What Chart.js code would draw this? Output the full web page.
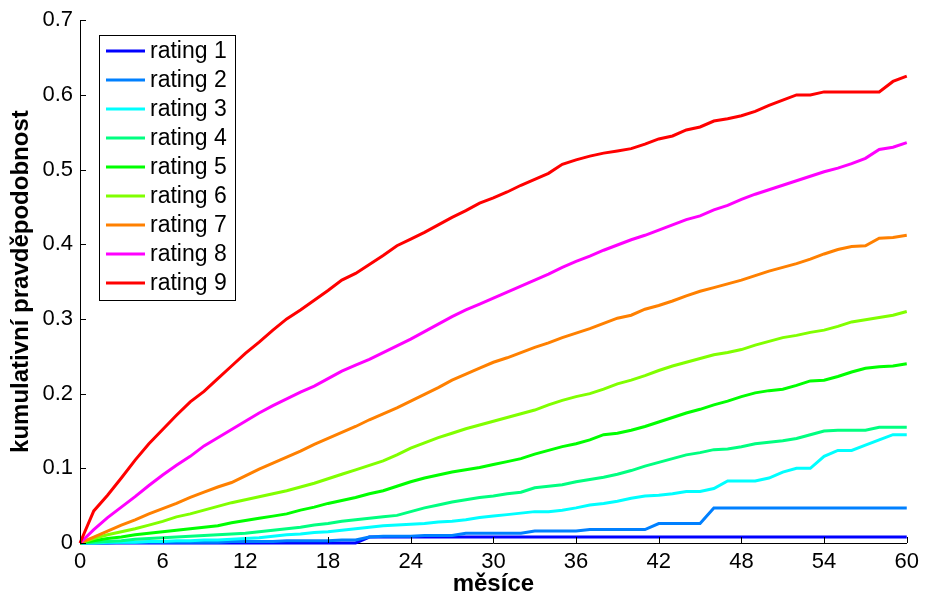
<!DOCTYPE html>
<html lang="cs">
<head>
    <meta charset="UTF-8">
    <title>Kumulativní pravděpodobnost</title>
    <script src="https://cdn.jsdelivr.net/npm/chart.js"></script>
    <style>
        body { margin: 0; background: #fff; }
        #wrap { width: 925px; height: 596px; }
    </style>
</head>
<body>
<div id="wrap"><canvas id="ratingChart" width="925" height="596"></canvas></div>
<script>
    // months 0..60
    const months = [];
    for (let m = 0; m <= 60; m++) months.push(m);

    const xTicks = [0, 6, 12, 18, 24, 30, 36, 42, 48, 54, 60];
    const yTicks = [0, 0.1, 0.2, 0.3, 0.4, 0.5, 0.6, 0.7];

    const seriesNames = ['rating 1', 'rating 2', 'rating 3', 'rating 4', 'rating 5',
                         'rating 6', 'rating 7', 'rating 8', 'rating 9'];
    const seriesColors = ['#0000ff', '#0080ff', '#00ffff', '#00ff80', '#00ff00',
                          '#80ff00', '#ff8000', '#ff00ff', '#ff0000'];

    // values, one per month
    const rating1 = [0, 0, 0, 0, 0, 0, 0, 0, 0, 0,
        0, 0, 0, 0, 0, 0, 0, 0, 0, 0,
        0, 0.008, 0.008, 0.008, 0.008, 0.008, 0.008, 0.008, 0.008, 0.008,
        0.008, 0.008, 0.008, 0.008, 0.008, 0.008, 0.008, 0.008, 0.008, 0.008,
        0.008, 0.008, 0.008, 0.008, 0.008, 0.008, 0.008, 0.008, 0.008, 0.008,
        0.008, 0.008, 0.008, 0.008, 0.008, 0.008, 0.008, 0.008, 0.008, 0.008, 0.008];
    const rating2 = [0, 0, 0, 0.001, 0.001, 0.001, 0.001, 0.001, 0.001, 0.001,
        0.001, 0.002, 0.002, 0.002, 0.002, 0.003, 0.003, 0.003, 0.003, 0.004,
        0.004, 0.008, 0.009, 0.009, 0.009, 0.010, 0.010, 0.010, 0.013, 0.013,
        0.013, 0.013, 0.013, 0.016, 0.016, 0.016, 0.016, 0.018, 0.018, 0.018,
        0.018, 0.018, 0.026, 0.026, 0.026, 0.026, 0.047, 0.047, 0.047, 0.047,
        0.047, 0.047, 0.047, 0.047, 0.047, 0.047, 0.047, 0.047, 0.047, 0.047, 0.047];
    const rating3 = [0, 0, 0.001, 0.001, 0.001, 0.002, 0.002, 0.003, 0.003, 0.004,
        0.004, 0.005, 0.006, 0.007, 0.009, 0.011, 0.012, 0.014, 0.015, 0.017,
        0.019, 0.021, 0.023, 0.024, 0.025, 0.026, 0.028, 0.029, 0.031, 0.034,
        0.036, 0.038, 0.040, 0.042, 0.042, 0.044, 0.047, 0.051, 0.053, 0.056,
        0.060, 0.063, 0.064, 0.066, 0.069, 0.069, 0.073, 0.083, 0.083, 0.083,
        0.087, 0.095, 0.100, 0.100, 0.116, 0.124, 0.124, 0.131, 0.138, 0.145, 0.145];
    const rating4 = [0, 0.001, 0.002, 0.003, 0.005, 0.006, 0.007, 0.008, 0.009, 0.010,
        0.011, 0.012, 0.013, 0.015, 0.017, 0.019, 0.021, 0.024, 0.026, 0.029,
        0.031, 0.033, 0.035, 0.037, 0.042, 0.047, 0.051, 0.055, 0.058, 0.061,
        0.063, 0.066, 0.068, 0.074, 0.076, 0.078, 0.082, 0.085, 0.088, 0.092,
        0.097, 0.103, 0.108, 0.113, 0.118, 0.121, 0.125, 0.126, 0.129, 0.133,
        0.135, 0.137, 0.140, 0.145, 0.150, 0.151, 0.151, 0.151, 0.155, 0.155, 0.155];
    const rating5 = [0, 0.003, 0.006, 0.008, 0.011, 0.013, 0.015, 0.017, 0.019, 0.021,
        0.023, 0.027, 0.030, 0.033, 0.036, 0.039, 0.044, 0.048, 0.053, 0.057,
        0.061, 0.066, 0.070, 0.076, 0.082, 0.087, 0.091, 0.095, 0.098, 0.101,
        0.105, 0.109, 0.113, 0.119, 0.124, 0.129, 0.133, 0.138, 0.145, 0.147,
        0.151, 0.156, 0.162, 0.168, 0.174, 0.179, 0.185, 0.190, 0.196, 0.201,
        0.204, 0.206, 0.211, 0.217, 0.218, 0.223, 0.229, 0.234, 0.236, 0.237, 0.240];
    const rating6 = [0, 0.006, 0.011, 0.015, 0.019, 0.024, 0.029, 0.035, 0.039, 0.044,
        0.049, 0.054, 0.058, 0.062, 0.066, 0.070, 0.075, 0.080, 0.086, 0.092,
        0.098, 0.104, 0.110, 0.118, 0.127, 0.134, 0.141, 0.147, 0.153, 0.158,
        0.163, 0.168, 0.173, 0.178, 0.185, 0.191, 0.196, 0.200, 0.206, 0.213,
        0.218, 0.224, 0.231, 0.237, 0.242, 0.247, 0.252, 0.255, 0.259, 0.265,
        0.270, 0.275, 0.278, 0.282, 0.285, 0.290, 0.296, 0.299, 0.302, 0.305, 0.310];
    const rating7 = [0, 0.008, 0.016, 0.024, 0.031, 0.039, 0.046, 0.053, 0.061, 0.068,
        0.075, 0.081, 0.090, 0.099, 0.107, 0.115, 0.123, 0.132, 0.140, 0.148,
        0.156, 0.165, 0.173, 0.181, 0.190, 0.199, 0.208, 0.218, 0.226, 0.234,
        0.242, 0.248, 0.255, 0.262, 0.268, 0.275, 0.281, 0.287, 0.294, 0.301,
        0.305, 0.313, 0.318, 0.324, 0.331, 0.337, 0.342, 0.347, 0.352, 0.358,
        0.364, 0.369, 0.374, 0.380, 0.387, 0.393, 0.397, 0.398, 0.408, 0.409, 0.412];
    const rating8 = [0, 0.018, 0.034, 0.048, 0.062, 0.077, 0.091, 0.104, 0.116, 0.130,
        0.141, 0.152, 0.163, 0.174, 0.184, 0.193, 0.202, 0.210, 0.220, 0.230,
        0.238, 0.246, 0.255, 0.264, 0.273, 0.283, 0.293, 0.303, 0.312, 0.320,
        0.328, 0.336, 0.344, 0.352, 0.360, 0.369, 0.377, 0.384, 0.392, 0.399,
        0.406, 0.412, 0.419, 0.426, 0.433, 0.438, 0.446, 0.452, 0.460, 0.467,
        0.473, 0.479, 0.485, 0.491, 0.497, 0.502, 0.508, 0.515, 0.527, 0.530, 0.536];
    const rating9 = [0, 0.043, 0.064, 0.087, 0.111, 0.133, 0.152, 0.171, 0.189, 0.203,
        0.220, 0.237, 0.254, 0.269, 0.285, 0.300, 0.312, 0.325, 0.338, 0.352,
        0.361, 0.373, 0.385, 0.398, 0.407, 0.416, 0.426, 0.436, 0.445, 0.455,
        0.462, 0.470, 0.479, 0.487, 0.495, 0.507, 0.513, 0.518, 0.522, 0.525,
        0.528, 0.534, 0.541, 0.545, 0.553, 0.557, 0.565, 0.568, 0.572, 0.578,
        0.586, 0.593, 0.600, 0.600, 0.604, 0.604, 0.604, 0.604, 0.604, 0.618, 0.625];

    const allSeries = [rating1, rating2, rating3, rating4, rating5, rating6, rating7, rating8, rating9];

    const datasets = allSeries.map((vals, i) => ({
        label: seriesNames[i],
        data: months.map((m, j) => ({ x: m, y: vals[j] })),
        borderColor: seriesColors[i],
        backgroundColor: seriesColors[i],
        borderWidth: 3,
        pointRadius: 0,
        tension: 0,
        fill: false,
        clip: false,
        order: seriesNames.length - i
    }));

    const FONT = '"Liberation Sans", Arial, sans-serif';

    // inward tick marks like matlab axes
    const innerTicks = {
        id: 'innerTicks',
        afterDraw(chart) {
            const c = chart.ctx, a = chart.chartArea;
            const xs = chart.scales.x, ys = chart.scales.y;
            c.save();
            c.strokeStyle = '#000';
            c.lineWidth = 1;
            c.beginPath();
            xTicks.forEach(v => {
                const px = Math.round(xs.getPixelForValue(v)) + 0.5;
                c.moveTo(px, a.bottom);
                c.lineTo(px, a.bottom - 6);
            });
            yTicks.forEach(v => {
                const py = Math.round(ys.getPixelForValue(v)) + 0.5;
                c.moveTo(a.left, py);
                c.lineTo(a.left + 6, py);
            });
            c.stroke();
            c.restore();
        }
    };

    // legend box in the upper left corner
    const boxLegend = {
        id: 'boxLegend',
        afterDraw(chart) {
            const c = chart.ctx;
            const x0 = 99, y0 = 35, w = 136, h = 265, rowH = 29, firstRow = 51;
            c.save();
            c.fillStyle = '#fff';
            c.fillRect(x0, y0, w, h);
            c.strokeStyle = '#000';
            c.lineWidth = 1;
            c.strokeRect(x0 + 0.5, y0 + 0.5, w, h);
            c.font = '23px ' + FONT;
            c.textBaseline = 'middle';
            c.textAlign = 'left';
            chart.data.datasets.forEach((ds, i) => {
                const y = firstRow + i * rowH;
                c.strokeStyle = ds.borderColor;
                c.lineWidth = 3;
                c.beginPath();
                c.moveTo(106, y);
                c.lineTo(145, y);
                c.stroke();
                c.fillStyle = '#000';
                c.fillText(ds.label, 150, y + 1);
            });
            c.restore();
        }
    };

    new Chart(document.getElementById('ratingChart'), {
        type: 'line',
        data: { datasets: datasets },
        options: {
            responsive: false,
            animation: false,
            layout: { padding: { top: 19, right: 16, left: 0, bottom: 0 } },
            plugins: {
                legend: { display: false },
                tooltip: { enabled: false }
            },
            scales: {
                x: {
                    type: 'linear',
                    min: 0,
                    max: 60,
                    afterBuildTicks: s => { s.ticks = xTicks.map(v => ({ value: v })); },
                    afterFit: s => { s.height = 53; },
                    grid: { display: false, drawTicks: false },
                    border: { display: true, color: '#000', width: 1 },
                    ticks: {
                        color: '#000',
                        padding: 6,
                        maxRotation: 0,
                        autoSkip: false,
                        font: { family: FONT, size: 22 }
                    },
                    title: {
                        display: true,
                        text: 'měsíce',
                        color: '#000',
                        padding: { top: 0, bottom: 0 },
                        font: { family: FONT, size: 24, weight: 'bold', lineHeight: 1 }
                    }
                },
                y: {
                    type: 'linear',
                    min: 0,
                    max: 0.7,
                    afterBuildTicks: s => { s.ticks = yTicks.map(v => ({ value: v })); },
                    afterFit: s => { s.width = 80; },
                    grid: { display: false, drawTicks: false },
                    border: { display: true, color: '#000', width: 1 },
                    ticks: {
                        color: '#000',
                        padding: 7,
                        autoSkip: false,
                        font: { family: FONT, size: 22 },
                        callback: v => String(v)
                    },
                    title: {
                        display: true,
                        text: 'kumulativní pravděpodobnost',
                        color: '#000',
                        padding: { top: 9, bottom: 0 },
                        font: { family: FONT, size: 24, weight: 'bold', lineHeight: 1 }
                    }
                }
            }
        },
        plugins: [innerTicks, boxLegend]
    });
</script>
</body>
</html>
